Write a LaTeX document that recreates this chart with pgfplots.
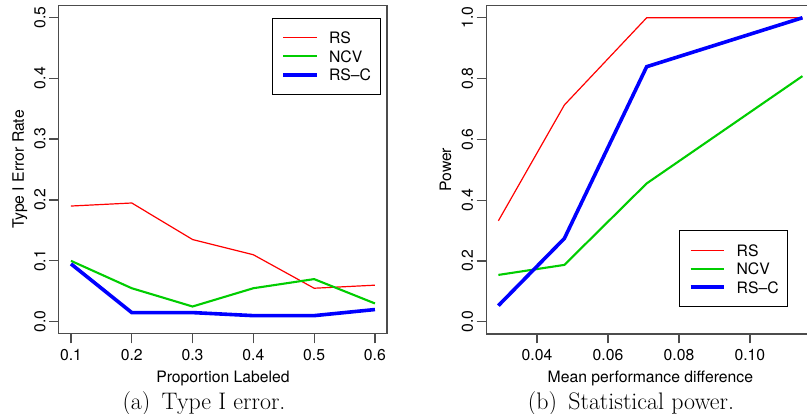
\documentclass[border=0pt]{standalone}
\usepackage{fontspec}
\newfontfamily\helv{TeX Gyre Heros}
\usepackage{pgfplots}
\pgfplotsset{compat=1.18}
\definecolor{rred}{RGB}{255,0,0}
\definecolor{rgreen}{RGB}{0,205,0}
\definecolor{rblue}{RGB}{0,0,255}
\definecolor{rframe}{gray}{0.3}
\newcommand{\sfsz}{\helv\fontsize{15.8}{19}\selectfont}

\pgfplotsset{
  rstyle/.style={
    scale only axis, anchor=south west,
    axis line style={draw=rframe, line width=1.2bp},
    every tick/.style={draw=rframe, line width=1.2bp},
    tick align=outside, major tick length=9.5bp,
    xtick pos=bottom, ytick pos=left,
    font=\sfsz,
    /pgf/number format/assume math mode=true,
    xticklabel style={inner sep=0pt, font=\sfsz},
    yticklabel style={rotate=90, anchor=south, inner sep=0pt, font=\sfsz},
    xticklabel shift=6bp, yticklabel shift=3.5bp,
    xlabel style={at={(axis description cs:0.5,-0.1484)}, anchor=base, inner sep=0pt, font=\sfsz},
    ylabel style={anchor=base, inner sep=0pt, font=\sfsz},
    legend cell align=left,
    legend image code/.code={\path (0bp,0bp) -- (4.3bp,0bp); \draw[##1] (4.3bp,0bp) -- (33.6bp,0bp);},
    legend style={draw=black, line width=1bp, inner xsep=9bp, inner ysep=13.75bp,
      row sep=6.8bp, column sep=10.7bp, anchor=north west, font=\sfsz,
      nodes={inner sep=0pt, text depth=0pt}},
  },
  rs/.style={rred, line width=1.2bp},
  ncv/.style={rgreen, line width=2.1bp},
  rsc/.style={rblue, line width=3.6bp},
}

\begin{document}
\begin{tikzpicture}
\useasboundingbox (0,0) rectangle (807bp,414bp);

% (a) Type I error
\begin{axis}[rstyle, at={(58.8bp,80.1bp)}, width=328.3bp, height=328.8bp,
  xmin=0.08, xmax=0.62, ymin=-0.02, ymax=0.52,
  xtick={0.1,0.2,0.3,0.4,0.5,0.6}, ytick={0,0.1,0.2,0.3,0.4,0.5},
  xticklabel style={/pgf/number format/.cd, fixed, fixed zerofill, precision=1},
  yticklabel style={/pgf/number format/.cd, fixed, fixed zerofill, precision=1},
  xlabel={Proportion Labeled}, ylabel={Type I Error Rate},
  ylabel style={at={(axis description cs:-0.1065,0.5)}},
  legend style={at={(0.6485,0.9617)}}]
\addplot[rs] coordinates {(0.1,0.19)(0.2,0.195)(0.3,0.135)(0.4,0.11)(0.5,0.055)(0.6,0.06)};
\addlegendentry{RS}
\addplot[ncv] coordinates {(0.1,0.10)(0.2,0.055)(0.3,0.025)(0.4,0.055)(0.5,0.07)(0.6,0.03)};
\addlegendentry{NCV}
\addplot[rsc] coordinates {(0.1,0.095)(0.2,0.015)(0.3,0.015)(0.4,0.01)(0.5,0.01)(0.6,0.02)};
\addlegendentry{RS–C}
\end{axis}

% (b) Statistical power
\begin{axis}[rstyle, at={(486.2bp,80.1bp)}, width=328.4bp, height=328.3bp,
  xmin=0.02567, xmax=0.11823, ymin=-0.04, ymax=1.04,
  xtick={0.04,0.06,0.08,0.10}, ytick={0,0.2,0.4,0.6,0.8,1.0},
  xticklabel style={/pgf/number format/.cd, fixed, fixed zerofill, precision=2},
  yticklabel style={/pgf/number format/.cd, fixed, fixed zerofill, precision=1},
  xlabel={Mean performance difference}, ylabel={Power},
  ylabel style={at={(axis description cs:-0.1066,0.5)}},
  legend style={at={(0.588,0.3165)}}]
\addplot[rs] coordinates {(0.0291,0.332)(0.0477,0.713)(0.0709,1.0)(0.1148,1.0)};
\addlegendentry{RS}
\addplot[ncv] coordinates {(0.0291,0.154)(0.0477,0.187)(0.0709,0.455)(0.1148,0.808)};
\addlegendentry{NCV}
\addplot[rsc] coordinates {(0.0291,0.053)(0.0477,0.274)(0.0709,0.839)(0.1148,1.0)};
\addlegendentry{RS–C}
\end{axis}

\node[anchor=base, inner sep=0pt, font=\fontsize{24}{28}\selectfont] at (204bp,5bp) {(a)\hspace{4bp} Type I error.};
\node[anchor=base, inner sep=0pt, font=\fontsize{24}{28}\selectfont] at (631bp,5bp) {(b)\hspace{4bp} Statistical power.};
\end{tikzpicture}
\end{document}
